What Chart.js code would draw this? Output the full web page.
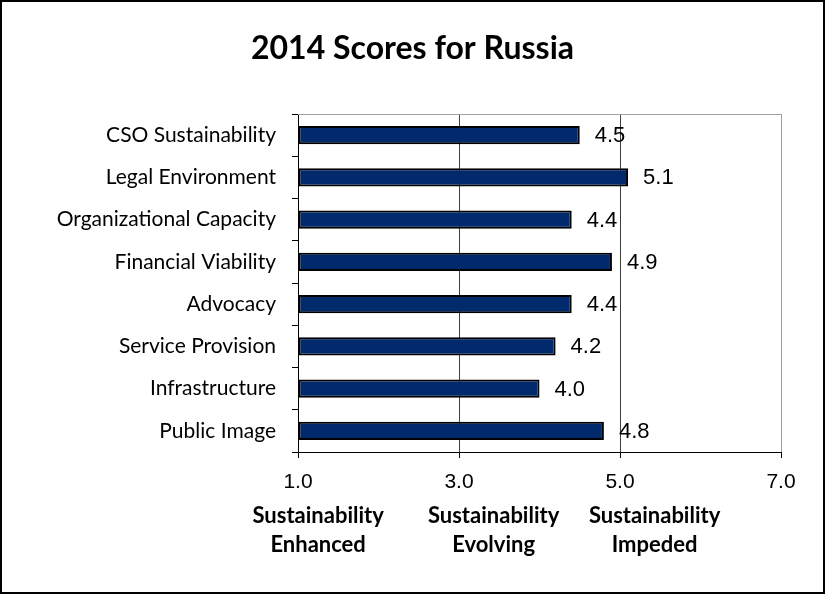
<!DOCTYPE html>
<html>
<head>
<meta charset="utf-8">
<script src="https://cdn.jsdelivr.net/npm/chart.js@4.4.1/dist/chart.umd.min.js"></script>
<style>
    body { margin: 0; background: #fff; }
    #frame {
        width: 825px;
        height: 594px;
        box-sizing: border-box;
        border: 2px solid #000;
        position: relative;
    }
    #box { width: 821px; height: 590px; position: relative; }
</style>
</head>
<body>
<div id="frame">
    <div id="box"><canvas id="scoreChart"></canvas></div>
</div>
<script>
const chartTitle = '2014 Scores for Russia';
const categories = [
    'CSO Sustainability',
    'Legal Environment',
    'Organizational Capacity',
    'Financial Viability',
    'Advocacy',
    'Service Provision',
    'Infrastructure',
    'Public Image'
];
const scores = [4.5, 5.1, 4.4, 4.9, 4.4, 4.2, 4.0, 4.8];
const xTicks = [1, 3, 5, 7];
const zoneLabels = [
    ['Sustainability', 'Enhanced'],
    ['Sustainability', 'Evolving'],
    ['Sustainability', 'Impeded']
];
// where each zone caption is centred, in score units
const zoneCenters = [1.25, 3.43, 5.43];

// value labels at the end of each bar
const valueLabels = {
    id: 'valueLabels',
    afterDatasetsDraw(chart) {
        const ctx = chart.ctx;
        const meta = chart.getDatasetMeta(0);
        ctx.save();
        ctx.font = '22px "Liberation Sans", Arial, sans-serif';
        ctx.fillStyle = '#000';
        ctx.textAlign = 'left';
        ctx.textBaseline = 'middle';
        meta.data.forEach((bar, i) => {
            ctx.fillText(scores[i].toFixed(1), bar.x + 15, bar.y + 1);
        });
        ctx.restore();
    }
};

// title centred on the whole frame, gray top edge, captions under the axis
const extras = {
    id: 'extras',
    beforeDatasetsDraw(chart) {
        const { ctx, chartArea } = chart;
        ctx.save();
        ctx.strokeStyle = '#a0a0a0';
        ctx.lineWidth = 1;
        ctx.beginPath();
        ctx.moveTo(chartArea.left, chartArea.top + 0.5);
        ctx.lineTo(chartArea.right, chartArea.top + 0.5);
        ctx.stroke();
        ctx.restore();
    },
    afterDraw(chart) {
        const ctx = chart.ctx;
        const xScale = chart.scales.x;
        ctx.save();
        ctx.fillStyle = '#000';
        ctx.textAlign = 'center';
        ctx.textBaseline = 'alphabetic';

        ctx.font = 'bold 32px Lato, sans-serif';
        ctx.fillText(chartTitle, chart.width / 2, 57);

        ctx.font = 'bold 22px Lato, sans-serif';
        zoneLabels.forEach((lines, i) => {
            const cx = xScale.getPixelForValue(zoneCenters[i]);
            lines.forEach((line, j) => {
                ctx.fillText(line, cx, 521 + j * 29);
            });
        });
        ctx.restore();
    }
};

const ctx = document.getElementById('scoreChart').getContext('2d');
new Chart(ctx, {
    type: 'bar',
    data: {
        labels: categories,
        datasets: [{
            data: scores,
            base: 1,
            backgroundColor: '#002a6c',
            borderColor: '#000',
            borderWidth: 2,
            borderSkipped: false,
            barPercentage: 0.43,
            categoryPercentage: 1.0
        }]
    },
    options: {
        indexAxis: 'y',
        responsive: true,
        maintainAspectRatio: false,
        animation: false,
        layout: {
            padding: { left: 0, right: 42, top: 112, bottom: 0 }
        },
        plugins: {
            legend: { display: false },
            tooltip: { enabled: false },
            title: { display: false }
        },
        scales: {
            x: {
                min: 1,
                max: 7,
                afterBuildTicks(scale) {
                    scale.ticks = xTicks.map(v => ({ value: v }));
                },
                afterFit(scale) {
                    scale.height = 140;
                },
                ticks: {
                    color: '#000',
                    padding: 12,
                    font: { family: '"Liberation Sans", Arial, sans-serif', size: 21 },
                    callback: v => Number(v).toFixed(1)
                },
                grid: {
                    drawOnChartArea: true,
                    tickLength: 6,
                    tickColor: '#000',
                    color: c => {
                        const v = c.tick ? c.tick.value : null;
                        if (v === 1) return 'rgba(0,0,0,0)';
                        if (v === 7) return '#a0a0a0';
                        return '#404040';
                    }
                },
                border: { color: '#000', width: 1 }
            },
            y: {
                afterFit(scale) {
                    scale.width = 296;
                },
                ticks: {
                    color: '#000',
                    padding: 16,
                    font: { family: 'Lato, sans-serif', size: 21 }
                },
                grid: {
                    offset: true,
                    drawOnChartArea: false,
                    tickLength: 6,
                    tickColor: '#000'
                },
                border: { color: '#000', width: 1 }
            }
        }
    },
    plugins: [valueLabels, extras]
});
</script>
</body>
</html>
